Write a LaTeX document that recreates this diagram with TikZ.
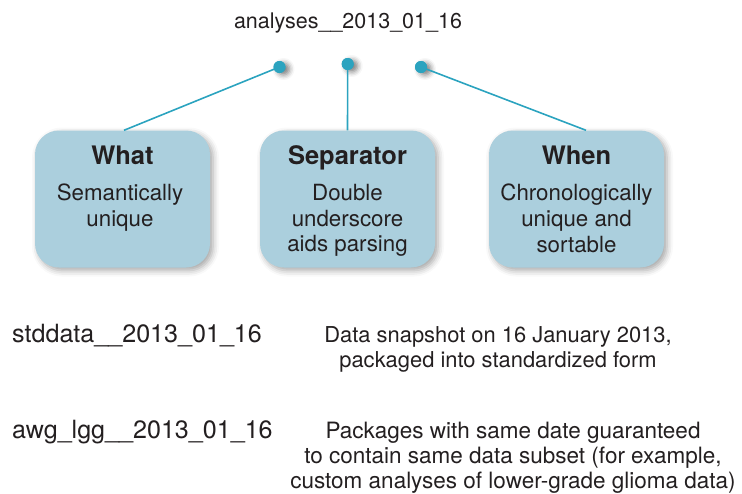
\documentclass[tikz,border=0pt]{standalone}
\usepackage{fontspec}
\setmainfont{TeX Gyre Heros}
\usetikzlibrary{shadows.blur}

\definecolor{cardfill}{HTML}{ABCFDD}
\definecolor{linkcol}{HTML}{2BA3BF}
\definecolor{inkcol}{HTML}{231F20}

\tikzset{
  card/.style={draw=none, fill=cardfill, rounded corners=24pt,
    minimum width=175pt, minimum height=137pt, inner sep=0pt,
    blur shadow={shadow xshift=3pt, shadow yshift=-3pt,
      shadow blur radius=6pt, shadow opacity=35}},
  cardtitle/.style={anchor=base, inner sep=0pt, text=inkcol,
    font=\fontsize{25.5}{30}\selectfont\bfseries},
  cardbody/.style={anchor=north, inner sep=0pt, text=inkcol, align=center,
    font=\fontsize{22.3}{25.7}\selectfont},
  pin/.style={circle, fill=linkcol, minimum size=12pt, inner sep=0pt,
    blur shadow={shadow xshift=4pt, shadow yshift=-2pt,
      shadow blur radius=5pt, shadow opacity=50}},
  link/.style={draw=linkcol, line width=1.6pt},
  tag/.style={anchor=base west, inner sep=0pt, text=inkcol,
    font=\fontsize{25.1}{29}\selectfont},
  note/.style={anchor=north, inner sep=0pt, text=inkcol, align=center,
    font=\fontsize{21.9}{25}\selectfont},
}

\begin{document}
\begin{tikzpicture}[x=1pt, y=-1pt]
\useasboundingbox (0,0) rectangle (742,493);

% package name
\node[anchor=base, inner sep=0pt, text=inkcol,
  font=\fontsize{21.5}{26}\selectfont] (name) at (348,28) {analyses\_\_2013\_01\_16};

% the three parts of the name
\node[card] (what) at (122.5,199) {};
\node[card] (sep)  at (347.5,199) {};
\node[card] (when) at (576.5,199) {};

\node[cardtitle] (whatT) at (122.5,164.5) {What};
\node[cardtitle] (sepT)  at (347.5,164.5) {Separator};
\node[cardtitle] (whenT) at (576.5,164.5) {When};

\node[cardbody] (whatB) at (120,184) {Semantically\\unique};
\node[cardbody] (sepB)  at (347.5,184) {Double\\underscore\\aids parsing};
\node[cardbody] (whenB) at (576.5,184) {Chronologically\\unique and\\sortable};

% pins under the name and their leader lines
\node[pin] (p1) at (279.5,67) {};
\node[pin] (p2) at (347.7,64) {};
\node[pin] (p3) at (421,67) {};

\draw[link] (p1.center) -- ([xshift=1.5pt]what.north);
\draw[link] (p2.center) -- (sep.north);
\draw[link] (p3.center) -- ([xshift=9.5pt]when.north);
\fill[linkcol] (p1) circle (6pt) (p2) circle (6pt) (p3) circle (6pt);

% examples
\node[tag] (ex1) at (12,342.5) {stddata\_\_2013\_01\_16};
\node[tag] (ex2) at (12,438) {awg\_lgg\_\_2013\_01\_16};

\node[note] (n1) at (498,326) {Data snapshot on 16 January 2013,\\packaged into standardized form};
\node[note, font=\fontsize{22.5}{25}\selectfont] (n2) at (513,422) {Packages with same date guaranteed\\to contain same data subset (for example,\\custom analyses of lower-grade glioma data)};
\end{tikzpicture}
\end{document}
